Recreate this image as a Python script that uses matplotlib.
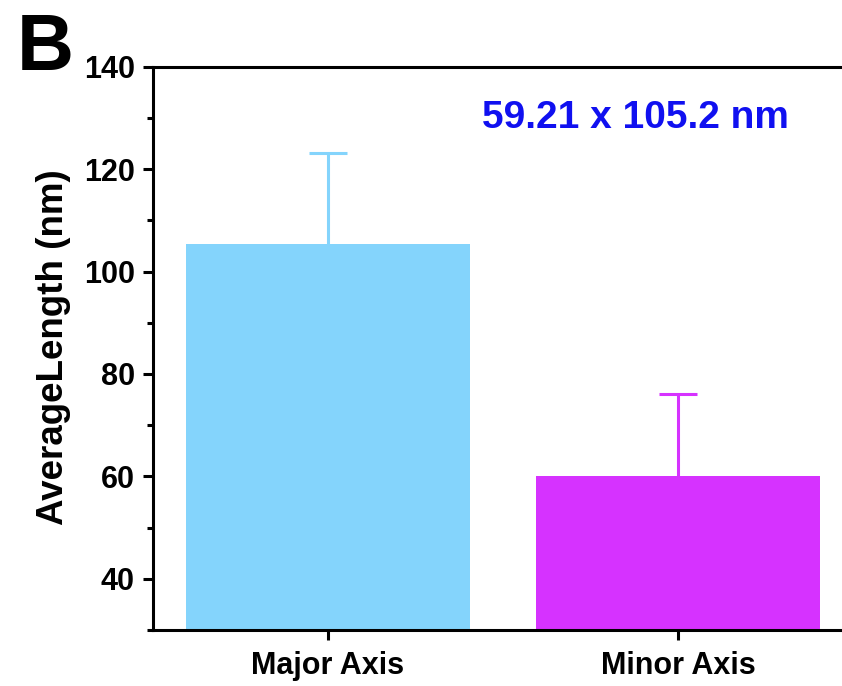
import matplotlib
matplotlib.use("Agg")
import matplotlib.pyplot as plt
from matplotlib.ticker import MultipleLocator

plt.rcParams['font.family'] = ['Liberation Sans', 'DejaVu Sans']
plt.rcParams['font.weight'] = 'bold'

categories = ["Major Axis", "Minor Axis"]
values = [105.4, 60.0]
errors = [17.7, 16.1]
colors = ["#84D4FC", "#D632FF"]
annotation = "59.21 x 105.2 nm"
ylabel = "AverageLength (nm)"
panel = "B"

fig = plt.figure(figsize=(8.42, 6.86), dpi=100)
ax = fig.add_axes([153/842, 56/686, 700/842, 563.3/686])

x = [1, 2]
for xi, v, e, c in zip(x, values, errors, colors):
    ax.bar(xi, v, width=0.81, color=c, zorder=2)
    eb = ax.errorbar(xi, v, yerr=[[0], [e]], fmt='none', ecolor=c, elinewidth=2.2,
                     capsize=14, capthick=2.2, zorder=3)
    eb[1][0].set_visible(False)

ax.set_xlim(0.5, 2.5)
ax.set_ylim(30, 140)
ax.set_xticks(x)
ax.set_xticklabels(categories, fontsize=22, fontweight='bold')
ax.yaxis.set_major_locator(MultipleLocator(20))
ax.yaxis.set_minor_locator(MultipleLocator(10))
ax.set_yticks([40, 60, 80, 100, 120, 140])
for lab in ax.get_yticklabels():
    lab.set_fontsize(22)
    lab.set_fontweight('bold')

for s in ['left', 'bottom', 'top']:
    ax.spines[s].set_linewidth(2.2)
ax.spines['right'].set_visible(False)
ax.tick_params(axis='y', which='major', direction='out', length=7, width=2.2, pad=6)
ax.tick_params(axis='y', which='minor', direction='out', length=4, width=2.2)
ax.tick_params(axis='x', which='major', direction='out', length=7, width=2.2, pad=8)
ax.tick_params(top=False, right=False)

ax.set_ylabel(ylabel, fontsize=26.5, fontweight='bold')
ax.yaxis.set_label_coords(-0.117, 0.502)

ax.text(0.47, 0.8906, annotation, transform=ax.transAxes, ha='left', va='baseline',
        color='#1010F0', fontsize=28, fontweight='bold')

fig.text(17/842, (686-70)/686, panel, ha='left', va='baseline', fontsize=57,
         fontweight='bold')

fig.savefig("out.png", dpi=100)
